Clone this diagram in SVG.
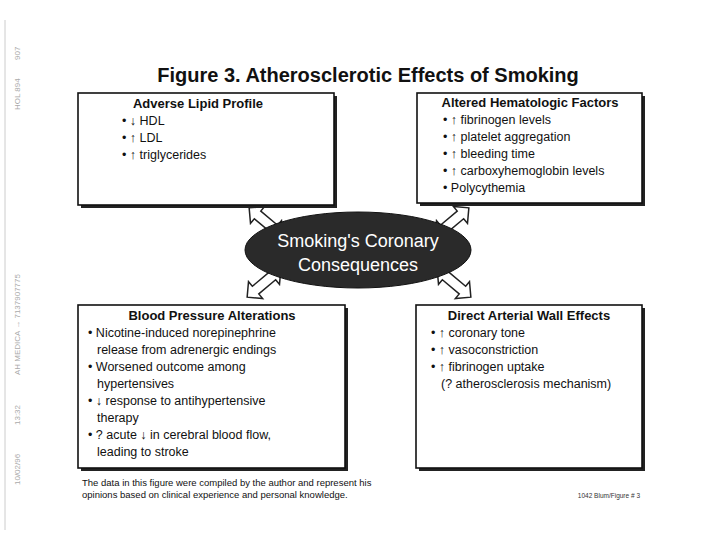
<svg xmlns="http://www.w3.org/2000/svg" width="720" height="556" viewBox="0 0 720 556">
<defs>
<style>
.box{fill:#fff;stroke:#111;stroke-width:1.6}
.sh{fill:#222}
.t{font-family:"Liberation Sans",Arial,sans-serif;font-size:12.5px;fill:#111}
.h{font-family:"Liberation Sans",Arial,sans-serif;font-size:13px;font-weight:bold;fill:#111}
.m{font-family:"Liberation Sans",Arial,sans-serif;font-size:8px;fill:#aaa}
.ar{fill:#fff;stroke:#222;stroke-width:1.5;stroke-linejoin:miter}
</style>
<polygon id="arr" points="-22,0 -11,-11 -11,-5 11,-5 11,-11 22,0 11,11 11,5 -11,5 -11,11"/>
</defs>
<rect width="720" height="556" fill="#fff"/>
<line x1="5" y1="20" x2="5" y2="530" stroke="#ccc" stroke-width="1"/>
<g class="m">
<text transform="translate(20,60) rotate(-90)">907</text>
<text transform="translate(20,110) rotate(-90)">HOL 894</text>
<text transform="translate(20,375) rotate(-90)">AH MEDICA → 7137907775</text>
<text transform="translate(20,425) rotate(-90)">13:32</text>
<text transform="translate(20,485) rotate(-90)">10/02/96</text>
</g>
<text x="368" y="82" text-anchor="middle" font-family="Liberation Sans,Arial,sans-serif" font-size="20" font-weight="bold" fill="#111">Figure 3.  Atherosclerotic Effects of Smoking</text>
<g id="connectors">
<use href="#arr" class="ar" transform="translate(266,222) rotate(40)"/>
<use href="#arr" class="ar" transform="translate(452,222) rotate(-40)"/>
<use href="#arr" class="ar" transform="translate(264,283) rotate(-40)"/>
<use href="#arr" class="ar" transform="translate(454,283) rotate(40)"/>
</g>
<g id="lipid">
<rect class="sh" x="81" y="96" width="256" height="112"/>
<rect class="box" x="78" y="93" width="256" height="112"/>
<text class="h" x="198" y="108" text-anchor="middle">Adverse Lipid Profile</text>
<text class="t" x="122" y="125">• ↓ HDL</text>
<text class="t" x="122" y="142">• ↑ LDL</text>
<text class="t" x="122" y="159">• ↑ triglycerides</text>
</g>
<g id="hema">
<rect class="sh" x="420" y="96" width="225" height="110"/>
<rect class="box" x="417" y="93" width="225" height="110"/>
<text class="h" x="530" y="107" text-anchor="middle">Altered Hematologic Factors</text>
<text class="t" x="443" y="124">• ↑ fibrinogen levels</text>
<text class="t" x="443" y="141">• ↑ platelet aggregation</text>
<text class="t" x="443" y="158">• ↑ bleeding time</text>
<text class="t" x="443" y="175">• ↑ carboxyhemoglobin levels</text>
<text class="t" x="443" y="192">• Polycythemia</text>
</g>
<g id="center">
<ellipse cx="358" cy="250" rx="113" ry="38" fill="#2a2a2a" stroke="#111"/>
<text x="358" y="247" text-anchor="middle" font-family="Liberation Sans,Arial,sans-serif" font-size="18" fill="#fff">Smoking's Coronary</text>
<text x="358" y="271" text-anchor="middle" font-family="Liberation Sans,Arial,sans-serif" font-size="18" fill="#fff">Consequences</text>
</g>
<g id="bp">
<rect class="sh" x="81" y="308" width="267" height="163"/>
<rect class="box" x="78" y="305" width="267" height="163"/>
<text class="h" x="212" y="320" text-anchor="middle">Blood Pressure Alterations</text>
<text class="t" x="88" y="337">• Nicotine-induced norepinephrine</text>
<text class="t" x="97" y="354">release from adrenergic endings</text>
<text class="t" x="88" y="371">• Worsened outcome among</text>
<text class="t" x="97" y="388">hypertensives</text>
<text class="t" x="88" y="405">• ↓ response to antihypertensive</text>
<text class="t" x="97" y="422">therapy</text>
<text class="t" x="88" y="439">• ? acute ↓ in cerebral blood flow,</text>
<text class="t" x="97" y="456">leading to stroke</text>
</g>
<g id="wall">
<rect class="sh" x="419" y="308" width="226" height="163"/>
<rect class="box" x="416" y="305" width="226" height="163"/>
<text class="h" x="529" y="320" text-anchor="middle">Direct Arterial Wall Effects</text>
<text class="t" x="431" y="337">• ↑ coronary tone</text>
<text class="t" x="431" y="354">• ↑  vasoconstriction</text>
<text class="t" x="431" y="371">• ↑ fibrinogen uptake</text>
<text class="t" x="441" y="388">(? atherosclerosis mechanism)</text>
</g>
<text x="82" y="486" font-family="Liberation Sans,Arial,sans-serif" font-size="9.5" fill="#111">The data in this figure were compiled by the author and represent his</text>
<text x="82" y="498" font-family="Liberation Sans,Arial,sans-serif" font-size="9.5" fill="#111">opinions based on clinical experience and personal knowledge.</text>
<text x="640" y="498" text-anchor="end" font-family="Liberation Sans,Arial,sans-serif" font-size="6.5" fill="#333">1042 Blum/Figure # 3</text>
</svg>
